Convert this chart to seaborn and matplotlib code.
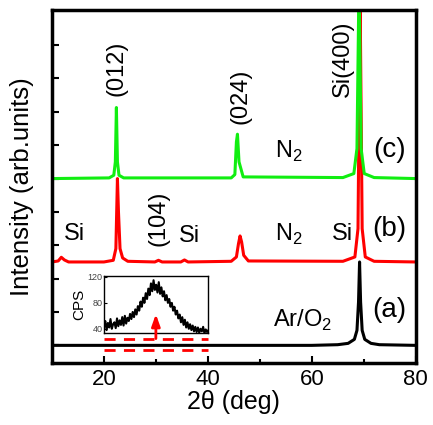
import numpy as np
import pandas as pd
import seaborn as sns
import matplotlib.pyplot as plt

sns.set_style("ticks")
plt.rcParams['font.family'] = ['Liberation Sans', 'DejaVu Sans']
plt.rcParams.update({'text.color': 'black', 'axes.labelcolor': 'black',
                     'xtick.color': 'black', 'ytick.color': 'black',
                     'axes.edgecolor': 'black', 'mathtext.fontset': 'custom',
                     'mathtext.rm': 'Liberation Sans'})

# (a) Ar/O2 - black
x_a = [10, 20, 30, 40, 50, 60, 65, 67, 68.2, 68.7, 69.0, 69.2, 69.4, 69.7, 70.2, 71.4, 73, 80]
y_a = [0.0, 0.0, 0.0, 0.0, 0.0, 0.0, 0.02, 0.06, 0.18, 0.45, 1.3, 2.5, 1.3, 0.45, 0.18, 0.06, 0.02, 0.0]

# (b) N2 - red
x_b = [10, 11.2, 11.8, 12.4, 13.2, 20, 21.8, 22.3, 22.6, 22.8, 23.1, 23.6, 24.6, 29.8, 30.5, 31.2,
       34.8, 35.5, 36.2, 44.5, 45.5, 45.9, 46.2, 46.5, 46.9, 47.8, 66, 68.3, 68.9, 69.3, 69.7, 70.3, 72, 80]
y_b = [2.5, 2.53, 2.64, 2.56, 2.5, 2.5, 2.55, 2.9, 5.0, 4.0, 2.9, 2.62, 2.52, 2.5, 2.55, 2.5,
       2.5, 2.56, 2.5, 2.52, 2.65, 3.05, 3.28, 3.1, 2.7, 2.53, 2.52, 2.65, 3.5, 10.5, 3.5, 2.65, 2.52, 2.5]

# (c) N2 - green
x_c = [10, 21.0, 21.9, 22.2, 22.4, 22.6, 22.9, 23.8, 44.5, 45.2, 45.5, 45.7, 46.0, 46.8, 66, 68.1, 68.7, 69.1, 69.5, 70.1, 72, 80]
y_c = [5.0, 5.02, 5.1, 5.5, 7.13, 5.5, 5.1, 5.02, 5.02, 5.12, 6.1, 6.33, 5.5, 5.05, 5.03, 5.15, 5.9, 11.0, 5.9, 5.15, 5.03, 5.0]

# inset (low angle hump of film (a), CPS)
x_in = np.arange(20, 40.01, 0.25)
y_in = [44, 52, 38, 49, 42, 55, 40, 47,
        50, 41, 56, 44, 53, 46, 58, 45,
        60, 48, 57, 52, 63, 55, 66, 58,
        70, 62, 75, 68, 82, 74, 88, 80,
        95, 86, 102, 92, 110, 98, 115, 100,
        108, 96, 112, 94, 104, 90, 98, 84,
        92, 80, 86, 74, 80, 68, 74, 62,
        68, 56, 62, 50, 58, 46, 54, 42,
        50, 40, 47, 38, 45, 36, 43, 35,
        42, 34, 40, 36, 43, 33, 39, 35,
        38]

fig = plt.figure(figsize=(4.33, 4.25), dpi=100)
ax = fig.add_axes([0.12, 0.145, 0.84, 0.832])

for xs, ys, col in [(x_a, y_a, 'black'), (x_b, y_b, '#ff0000'), (x_c, y_c, '#11ee11')]:
    df = pd.DataFrame({'x': xs, 'y': ys})
    sns.lineplot(data=df, x='x', y='y', color=col, lw=2.2, sort=False, estimator=None, ax=ax)

# dashed markers of the inset region
for yy in [0.18, -0.15]:
    ax.plot([20, 40], [yy, yy], color='#ff0000', lw=2, ls=(0, (4, 3)))

ax.set_xlim(10, 80)
ax.set_ylim(-0.54, 10.06)
ax.set_xticks([20, 40, 60, 80])
ax.set_xticks([30, 50, 70], minor=True)
ax.set_yticks(np.arange(0, 10))
ax.set_yticklabels([])
ax.tick_params(direction='in', length=5, width=1.5, labelsize=16, pad=4)
ax.tick_params(which='minor', direction='in', length=3, width=1.5)
for s in ax.spines.values():
    s.set_linewidth(2.5)
ax.set_xlabel('2θ (deg)', fontsize=18, labelpad=0)
ax.set_ylabel('Intensity (arb.units)', fontsize=18.5, labelpad=9)

fs = 17
ax.text(22.5, 8.3, '(012)', rotation=90, ha='center', va='center', fontsize=fs)
ax.text(46.2, 7.46, '(024)', rotation=90, ha='center', va='center', fontsize=fs)
ax.text(65.9, 8.6, 'Si(400)', rotation=90, ha='center', va='center', fontsize=fs)
ax.text(30.6, 3.82, '(104)', rotation=90, ha='center', va='center', fontsize=fs)
ax.text(14.3, 3.34, 'Si', ha='center', va='center', fontsize=fs)
ax.text(36.4, 3.28, 'Si', ha='center', va='center', fontsize=fs)
ax.text(65.9, 3.34, 'Si', ha='center', va='center', fontsize=fs)
ax.text(55.5, 5.8, 'N$_2$', ha='center', va='center', fontsize=fs)
ax.text(55.5, 3.34, 'N$_2$', ha='center', va='center', fontsize=fs)
ax.text(58.2, 0.75, 'Ar/O$_2$', ha='center', va='center', fontsize=fs)
ax.text(74.9, 5.85, '(c)', ha='center', va='center', fontsize=20)
ax.text(74.9, 3.5, '(b)', ha='center', va='center', fontsize=20)
ax.text(74.9, 1.05, '(a)', ha='center', va='center', fontsize=20)

ins = fig.add_axes([0.12 + 0.84 * 0.143, 0.145 + 0.832 * 0.085, 0.84 * 0.287, 0.832 * 0.163])
sns.lineplot(x=x_in, y=y_in, color='black', lw=1.5, ax=ins)
ins.set_xlim(20, 40)
ins.set_ylim(33, 122)
ins.set_yticks([40, 80, 120])
ins.set_xticks([])
ins.tick_params(direction='in', length=2, labelsize=6.5, pad=1, labelcolor='#444444')
ins.set_ylabel('CPS', fontsize=11, labelpad=1)
ins.set_xlabel('')
for s in ins.spines.values():
    s.set_linewidth(1)

# red arrow pointing into the inset, drawn on top of it
ins.annotate('', xy=(30, 1.02), xycoords=ax.transData, xytext=(30, 0.12), textcoords=ax.transData,
             arrowprops=dict(arrowstyle='-|>,head_width=0.25,head_length=0.7', color='#ff0000', lw=2),
             annotation_clip=False)

fig.savefig('out.png', dpi=100)
